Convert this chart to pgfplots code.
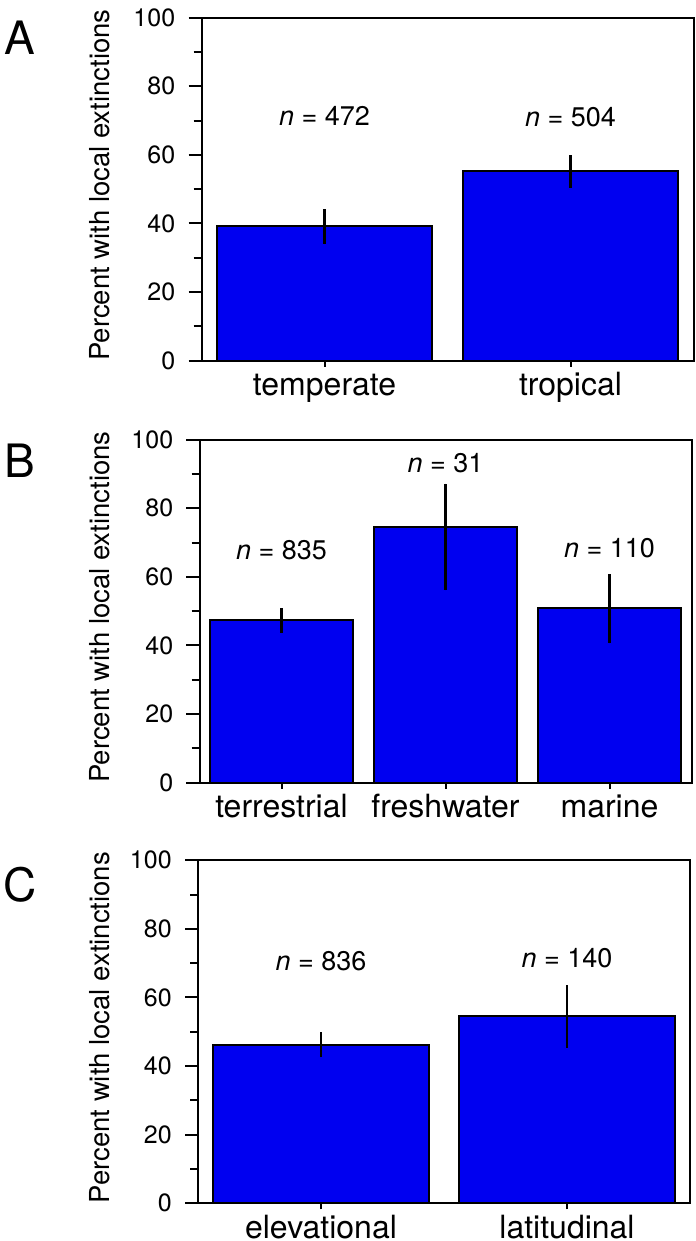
\documentclass[border=0pt]{standalone}
\usepackage{fontspec}
\setmainfont{TeX Gyre Heros}
\usepackage{pgfplots}
\pgfplotsset{compat=1.18}
\definecolor{barblue}{RGB}{0,0,240}
\newcommand\nlab[1]{\textit{n} = #1}
\pgfplotsset{
  panel/.style={
    scale only axis, width=492bp, height=343bp,
    anchor=south west,
    line width=2bp,
    ymin=0, ymax=100, ytick={0,20,...,100}, minor ytick={10,30,...,90},
    tick align=outside, ytick pos=left, xtick pos=bottom,
    major tick length=13bp, minor tick length=8bp,
    axis line style={line width=2bp},
    every tick/.style={black, line width=2bp},
    xtick style={/pgfplots/major tick length=6bp},
    /pgf/number format/assume math mode=true,
    yticklabel style={font=\fontsize{25bp}{29bp}\selectfont, xshift=-9bp},
    xticklabel style={font=\fontsize{32bp}{38bp}\selectfont, anchor=base, inner sep=0pt, yshift=-22bp},
    ylabel={Percent with local extinctions},
    ylabel style={font=\fontsize{27.5bp}{32bp}\selectfont, anchor=base west, inner sep=0pt},
    xtick=data,
  },
  barplot/.style={ybar, bar width=0.875, fill=barblue, draw=black, line width=2bp,
    error bars/.cd, y dir=both, y explicit, error mark=none,
    error bar style={line width=2.4bp, black}},
  labplot/.style={draw=none, mark=none, nodes near coords, point meta=explicit symbolic,
    nodes near coords style={anchor=center, inner sep=0pt, font=\fontsize{27bp}{30bp}\selectfont}},
}
\begin{document}
\begin{tikzpicture}
\useasboundingbox (0,0) rectangle (696bp,1241bp);
% Panel A
\begin{axis}[panel, at={(201.5bp,880.3bp)}, xmin=-0.5, xmax=1.5,
  xticklabels={temperate,tropical},
  ylabel style={at={(axis description cs:-0.186,-0.003)}}]
\addplot[barplot] table[x=x, y=y, y error plus=ep, y error minus=em] {
x y ep em
0 39.2 5.0 5.2
1 55.2 4.7 4.8
};
\addplot[labplot] table[x=x, y=y, meta=lab] {
x y lab
0 71.3 \nlab{472}
1 71.0 \nlab{504}
};
\end{axis}
% Panel B
\begin{axis}[panel, at={(199.5bp,458.3bp)}, xmin=-0.5, xmax=2.5,
  xticklabels={terrestrial,freshwater,marine},
  ylabel style={at={(axis description cs:-0.182,-0.003)}}]
\addplot[barplot] table[x=x, y=y, y error plus=ep, y error minus=em] {
x y ep em
0 47.4 3.5 3.7
1 74.5 12.7 18.4
2 50.8 9.9 10.2
};
\addplot[labplot] table[x=x, y=y, meta=lab] {
x y lab
0 67.8 \nlab{835}
1 93.2 \nlab{31}
2 68.5 \nlab{110}
};
\end{axis}
% Panel C
\begin{axis}[panel, at={(198bp,37.7bp)}, xmin=-0.5, xmax=1.5,
  xticklabels={elevational,latitudinal},
  ylabel style={at={(axis description cs:-0.179,-0.003)}}]
\addplot[barplot] table[x=x, y=y, y error plus=ep, y error minus=em] {
x y ep em
0 46.2 3.7 3.6
1 54.5 9.0 9.2
};
\addplot[labplot] table[x=x, y=y, meta=lab] {
x y lab
0 70.7 \nlab{836}
1 71.6 \nlab{140}
};
\end{axis}
\node[inner sep=0pt, font=\fontsize{46bp}{50bp}\selectfont] at (20bp,1203bp) {A};
\node[inner sep=0pt, font=\fontsize{46bp}{50bp}\selectfont] at (20bp,780bp) {B};
\node[inner sep=0pt, font=\fontsize{46bp}{50bp}\selectfont] at (20bp,356bp) {C};
\end{tikzpicture}
\end{document}
